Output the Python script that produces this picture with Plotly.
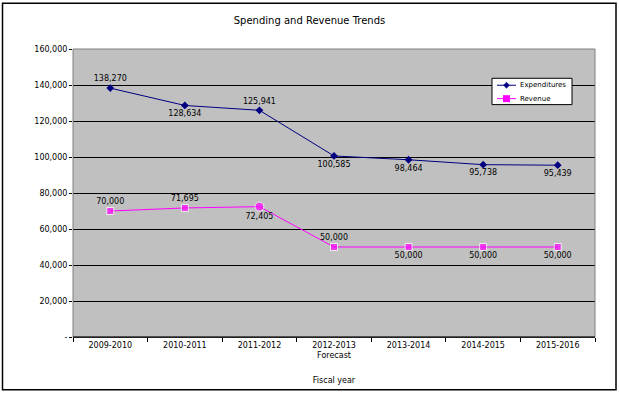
import plotly.graph_objects as go

years = ["2009-2010", "2010-2011", "2011-2012", "2012-2013<br>Forecast",
         "2013-2014", "2014-2015", "2015-2016"]
expenditures = [138270, 128634, 125941, 100585, 98464, 95738, 95439]
revenue = [70000, 71695, 72405, 50000, 50000, 50000, 50000]
exp_label_pos = ["top center", "bottom center", "top center", "bottom center",
                 "bottom center", "bottom center", "bottom center"]
rev_label_pos = ["top center", "top center", "bottom center", "top center",
                 "bottom center", "bottom center", "bottom center"]
y_ticks = [0, 20000, 40000, 60000, 80000, 100000, 120000, 140000, 160000]
y_tick_text = ["-", "20,000", "40,000", "60,000", "80,000", "100,000",
               "120,000", "140,000", "160,000"]
series_names = ["Expenditures", "Revenue"]

FONT = "DejaVu Sans"
EXP_COLOR = "#000080"
REV_COLOR = "#FF00FF"

# plot-area pixel geometry (for layout-only helpers)
L, R, T, B = 73, 595, 49, 339
W, H = R - L, B - T


def px(xp):
    return (xp - L) / W


def py(yp):
    return (B - yp) / H


fig = go.Figure()
fig.add_trace(go.Scatter(
    x=years, y=expenditures, name=series_names[0], mode="lines+markers+text",
    line=dict(color=EXP_COLOR, width=1),
    marker=dict(symbol="diamond", size=6, color=EXP_COLOR),
    text=[f"{v:,}" for v in expenditures], textposition=exp_label_pos,
    textfont=dict(family=FONT, size=8, color="black"), cliponaxis=False,
    showlegend=False,
))
fig.add_trace(go.Scatter(
    x=years, y=revenue, name=series_names[1], mode="lines+markers+text",
    line=dict(color=REV_COLOR, width=1),
    marker=dict(symbol=["square", "square", "circle", "square", "square", "square", "square"],
                size=[7, 7, 9, 7, 7, 7, 7], color=REV_COLOR),
    text=[f"{v:,}" for v in revenue], textposition=rev_label_pos,
    textfont=dict(family=FONT, size=8, color="black"), cliponaxis=False,
    showlegend=False,
))

# compact Excel-style legend box
leg_x0, leg_x1, leg_y0, leg_y1 = 492, 572, 78.5, 105
rows = [85.5, 99]
shapes = [
    dict(type="rect", xref="paper", yref="paper", x0=0, x1=1, y0=0, y1=1,
         line=dict(color="#808080", width=1), layer="above"),
    dict(type="line", xref="paper", yref="paper", x0=0, x1=1, y0=0, y1=0,
         line=dict(color="black", width=1), layer="above"),
    dict(type="rect", xref="paper", yref="paper",
         x0=px(2.5), x1=px(616), y0=py(392), y1=py(3),
         line=dict(color="black", width=1.5), layer="above"),
    dict(type="rect", xref="paper", yref="paper",
         x0=px(leg_x0), x1=px(leg_x1), y0=py(leg_y1), y1=py(leg_y0),
         line=dict(color="black", width=1), fillcolor="white", layer="above"),
]
annotations = []
for name, color, yrow in zip(series_names, [EXP_COLOR, REV_COLOR], rows):
    shapes.append(dict(type="line", xref="paper", yref="paper",
                       x0=px(497), x1=px(516), y0=py(yrow), y1=py(yrow),
                       line=dict(color=color, width=1), layer="above"))
    annotations.append(dict(text=name, xref="paper", yref="paper", x=px(518), y=py(yrow),
                            xanchor="left", yanchor="middle", showarrow=False,
                            font=dict(family=FONT, size=7, color="black")))
cx = 506.5
# diamond marker
d = 3
shapes.append(dict(type="path", xref="paper", yref="paper",
                   path=f"M {px(cx)} {py(rows[0]-d)} L {px(cx+d)} {py(rows[0])} "
                        f"L {px(cx)} {py(rows[0]+d)} L {px(cx-d)} {py(rows[0])} Z",
                   fillcolor=EXP_COLOR, line=dict(color=EXP_COLOR, width=0.5), layer="above"))
# square marker
s = 3.5
shapes.append(dict(type="rect", xref="paper", yref="paper",
                   x0=px(cx - s), x1=px(cx + s), y0=py(rows[1] + s), y1=py(rows[1] - s),
                   fillcolor=REV_COLOR, line=dict(color=REV_COLOR, width=0), layer="above"))

fig.update_layout(
    width=619, height=396,
    margin=dict(l=L, r=619 - R, t=T, b=396 - B),
    paper_bgcolor="white", plot_bgcolor="#C0C0C0",
    font=dict(family=FONT, size=8, color="black"),
    title=dict(text="Spending and Revenue Trends", x=0.5, xref="container", xanchor="center",
               y=1 - 20 / 396, yanchor="middle",
               font=dict(family=FONT, size=10, color="black")),
    showlegend=False,
    xaxis=dict(type="category", range=[-0.5, len(years) - 0.5],
               showgrid=False, showline=True, linecolor="black",
               linewidth=1, ticks="outside", tickson="boundaries", ticklen=4,
               tickcolor="black", tickfont=dict(family=FONT, size=8),
               title=dict(text="Fiscal year", font=dict(family=FONT, size=8), standoff=18),
               zeroline=False, mirror=False),
    yaxis=dict(range=[0, 160000], tickvals=y_ticks, ticktext=y_tick_text,
               showgrid=True, gridcolor="black", gridwidth=1, zeroline=False,
               showline=False, ticks="outside", ticklen=3, tickcolor="black",
               tickfont=dict(family=FONT, size=8)),
    shapes=shapes,
    annotations=annotations,
)

fig.write_html("out.html", config={"displayModeBar": False},
               post_script="document.body.style.margin='0';document.body.style.overflow='hidden';")
